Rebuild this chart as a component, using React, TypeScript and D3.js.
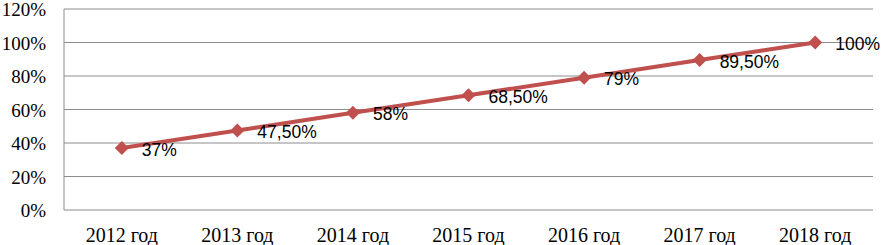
import React from 'react';
import * as d3 from 'd3';

const years = ['2012 год', '2013 год', '2014 год', '2015 год', '2016 год', '2017 год', '2018 год'];
const values = [0.37, 0.475, 0.58, 0.685, 0.79, 0.895, 1.0];
const labels = ['37%', '47,50%', '58%', '68,50%', '79%', '89,50%', '100%'];
const yTicks = [0, 0.2, 0.4, 0.6, 0.8, 1.0, 1.2];

const width = 882;
const height = 245;
const margin = { top: 9, right: 9, bottom: 35, left: 64 };

export default function App() {
    const x = d3.scaleBand()
        .domain(years)
        .range([margin.left, width - margin.right]);
    const y = d3.scaleLinear()
        .domain([0, 1.2])
        .range([height - margin.bottom, margin.top]);
    const cx = (i: number) => x(years[i])! + x.bandwidth() / 2;

    const line = d3.line<number>()
        .x((d, i) => cx(i))
        .y(d => y(d));

    // square diamond marker
    const r = 7;
    const diamond = `M0,${-r}L${r},0L0,${r}L${-r},0Z`;

    return (
        <svg width={width} height={height}
            style={{ position: 'absolute', left: 0, top: 0, background: '#fff' }}>
            {/* gridlines */}
            {yTicks.map(t => (
                <line key={t} x1={margin.left} x2={width - margin.right}
                    y1={y(t)} y2={y(t)} stroke="#8c8c8c" strokeWidth={1} />
            ))}
            <line x1={margin.left} x2={margin.left} y1={y(1.2)} y2={y(0)}
                stroke="#8c8c8c" strokeWidth={1} />
            {/* y labels */}
            {yTicks.map(t => (
                <text key={t} x={46} y={y(t) + 7} textAnchor="end"
                    fontFamily="'Liberation Serif', 'Times New Roman', serif" fontSize={19} fill="#000">
                    {Math.round(t * 100) + '%'}
                </text>
            ))}
            {/* x labels */}
            {years.map(c => (
                <text key={c} x={x(c)! + x.bandwidth() / 2} y={242} textAnchor="middle"
                    fontFamily="'Liberation Serif', 'Times New Roman', serif" fontSize={20} fill="#000">
                    {c}
                </text>
            ))}
            <path d={line(values)!} fill="none" stroke="#c0504d" strokeWidth={4} />
            {values.map((v, i) => (
                <path key={i} d={diamond}
                    transform={`translate(${cx(i)},${y(v)})`}
                    fill="#c0504d" />
            ))}
            {values.map((v, i) => (
                <text key={i} x={cx(i) + 20} y={y(v) + 7.5}
                    fontFamily="'Liberation Sans', Arial, sans-serif" fontSize={17.5} fill="#000">
                    {labels[i]}
                </text>
            ))}
        </svg>
    );
}
